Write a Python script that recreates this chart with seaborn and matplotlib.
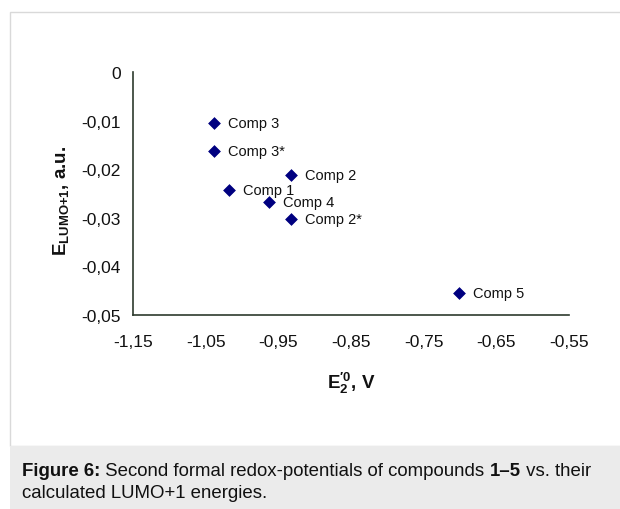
import matplotlib
matplotlib.use("Agg")
import matplotlib.pyplot as plt
from matplotlib.patches import Rectangle
from matplotlib.ticker import FuncFormatter
import seaborn as sns
import pandas as pd

compounds = ["Comp 3", "Comp 3*", "Comp 2", "Comp 1", "Comp 4", "Comp 2*", "Comp 5"]
e2_potential = [-1.039, -1.039, -0.933, -1.018, -0.963, -0.933, -0.701]
e_lumo1 = [-0.0104, -0.0163, -0.0211, -0.0243, -0.0267, -0.0303, -0.0455]
x_ticks = [-1.15, -1.05, -0.95, -0.85, -0.75, -0.65, -0.55]
y_ticks = [0, -0.01, -0.02, -0.03, -0.04, -0.05]

df = pd.DataFrame({"compound": compounds, "x": e2_potential, "y": e_lumo1})

sns.set_style("white")
plt.rcParams["font.family"] = ["Liberation Sans", "DejaVu Sans"]
plt.rcParams["mathtext.fontset"] = "custom"
plt.rcParams["mathtext.rm"] = "Liberation Sans"
plt.rcParams["mathtext.bf"] = "Liberation Sans:bold"

fig = plt.figure(figsize=(6.2, 5.1), dpi=100)
W, H = 620, 510

# outer border and caption box
fig.patches.append(Rectangle((9.5 / W, (H - 447) / H), 1.0, (447 - 12.5) / H,
                             transform=fig.transFigure, facecolor="white",
                             edgecolor="#d9d9d9", lw=1.0, zorder=-2))
fig.patches.append(Rectangle((9.5 / W, 0), 1.0, (H - 447) / H,
                             transform=fig.transFigure, facecolor="#ebebeb",
                             edgecolor="none", zorder=-2))

ax = fig.add_axes([133 / W, 1 - 316 / H, (569 - 133) / W, (316 - 73) / H])
ax.set_zorder(2)
ax.set_facecolor("none")
sns.scatterplot(data=df, x="x", y="y", marker="D", color="#000080", s=36,
                edgecolor="#000080", linewidth=0.5, ax=ax, zorder=3, clip_on=False)

for name, xv, yv in zip(compounds, e2_potential, e_lumo1):
    ax.annotate(name, (xv, yv), xytext=(10, 0), textcoords="offset points",
                va="center", ha="left", fontsize=10.5, color="#111111")

ax.set_xlim(-1.15, -0.55)
ax.set_ylim(-0.05, 0)
ax.set_xticks(x_ticks)
ax.set_yticks(y_ticks)
fmt_x = FuncFormatter(lambda v, p: f"{v:.2f}".replace(".", ","))
fmt_y = FuncFormatter(lambda v, p: "0" if abs(v) < 1e-9 else f"{v:.2f}".replace(".", ","))
ax.xaxis.set_major_formatter(fmt_x)
ax.yaxis.set_major_formatter(fmt_y)

axis_color = "#2e3b2e"
for s in ["top", "right"]:
    ax.spines[s].set_visible(False)
for s in ["left", "bottom"]:
    ax.spines[s].set_color(axis_color)
    ax.spines[s].set_linewidth(1.2)
ax.tick_params(axis="both", direction="out", length=5, width=1.2, color=axis_color,
               labelsize=12.5, labelcolor="#111111")
ax.tick_params(axis="x", pad=9)
ax.tick_params(axis="y", pad=4)

ax.set_xlabel("$\\mathbf{E_2^{\u2032 0}}$, V", fontsize=13.5, fontweight="bold",
              labelpad=15, color="#111111")
ax.set_ylabel(r"$\mathbf{E_{LUMO{+}1}}$, a.u.", fontsize=13.5, fontweight="bold",
              color="#111111")
ax.yaxis.set_label_coords(-0.142, 0.475)

# caption, built from bold and regular pieces
renderer = fig.canvas.get_renderer()
pieces = [("Figure 6:", "bold"), (" Second formal redox-potentials of compounds ", "normal"),
          ("1–5", "bold"), (" vs. their", "normal")]
x0 = 22
for txt, wt in pieces:
    t = fig.text(x0 / W, 1 - 472 / H, txt, fontsize=13.4, fontweight=wt,
                 va="center", ha="left", color="#111111")
    bb = t.get_window_extent(renderer=renderer)
    x0 = bb.x1
fig.text(22 / W, 1 - 494 / H, "calculated LUMO+1 energies.",
         fontsize=13.4, va="center", ha="left", color="#111111")

fig.savefig("out.png", dpi=100)
